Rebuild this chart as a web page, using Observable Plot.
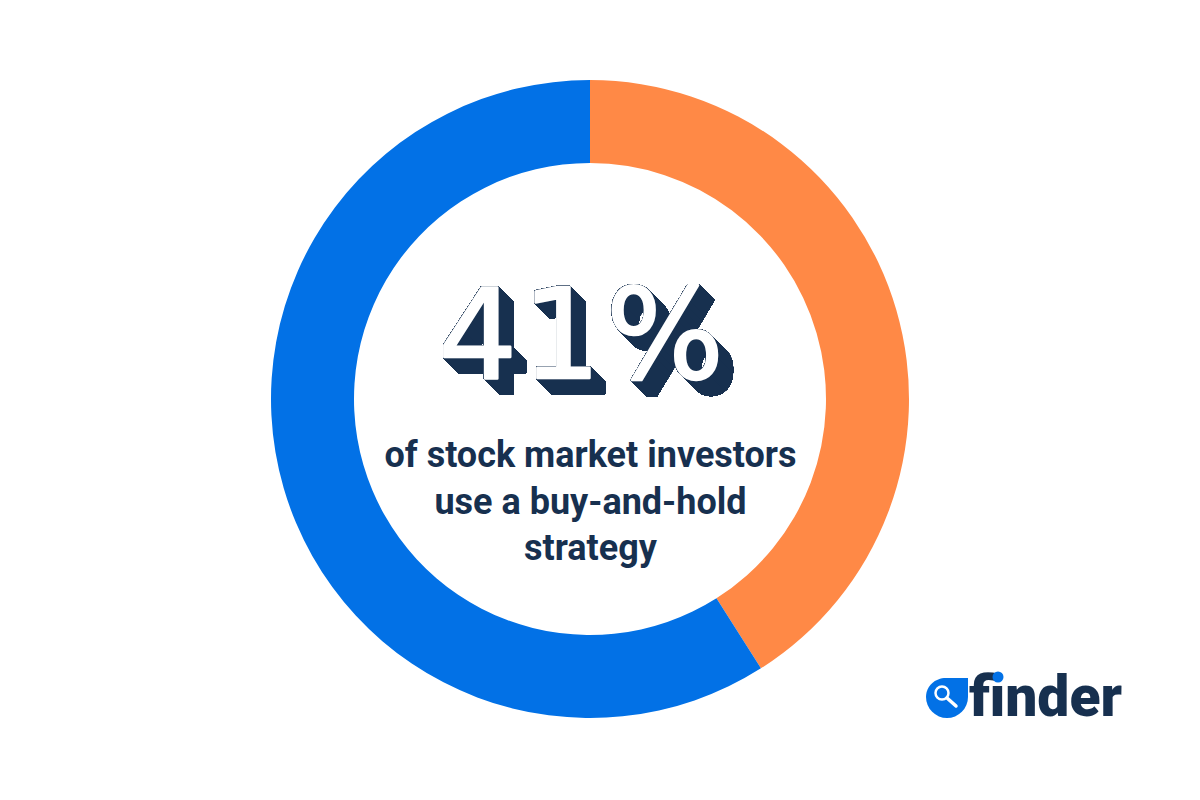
<!DOCTYPE html>
<html>
<head>
<meta charset="utf-8">
<script src="https://cdn.jsdelivr.net/npm/d3@7"></script>
<script src="https://cdn.jsdelivr.net/npm/@observablehq/plot@0.6"></script>
<style>
  html, body { margin: 0; padding: 0; background: #fff; }
  svg { display: block; }
</style>
</head>
<body>
<div id="chart"></div>
<script>
const categories = ["Buy-and-hold", "Other"];
const shares = [41, 59];
const sliceColors = ["#ff8946", "#0271e6"];
const headline = "41%";
const captionLines = ["of stock market investors", "use a buy-and-hold", "strategy"];
const brand = "finder";
const navy = "#17304f";
const blue = "#0271e6";

const rows = categories.map((category, i) => ({category, share: shares[i]}));
const outline = [0.5, 0.5, 0.5, 0.5, 0.5, 0.5].map(b => `drop-shadow(0 0 ${b}px ${navy})`).join(" ");
const extrusion = d3.range(15).map(() => `drop-shadow(1px 1px 0 ${navy})`).join(" ");

const OUTER = 319, INNER = 236;

function donut(index, scales, values, dimensions) {
  const cx = (dimensions.marginLeft + dimensions.width - dimensions.marginRight) / 2;
  const cy = (dimensions.marginTop + dimensions.height - dimensions.marginBottom) / 2;
  const pie = d3.pie().sort(null).value(d => d.share)(rows);
  const arc = d3.arc().innerRadius(INNER).outerRadius(OUTER);
  const g = d3.create("svg:g").attr("transform", `translate(${cx},${cy})`);
  g.selectAll("path").data(pie).join("path")
    .attr("d", arc)
    .attr("fill", (d, i) => values.fill[i]);
  return g.node();
}

function logoMark(index, scales, values, dimensions) {
  const g = d3.create("svg:g");
  g.append("path")
    .attr("fill", blue)
    .attr("d", "M946 678 H968 V697 A20 20 0 1 1 926 697 C926 686 935 678 946 678 Z");
  g.append("circle").attr("cx", 942).attr("cy", 693).attr("r", 6.5)
    .attr("fill", "none").attr("stroke", "#fff").attr("stroke-width", 2.5);
  g.append("line").attr("x1", 947).attr("y1", 698).attr("x2", 956).attr("y2", 706)
    .attr("stroke", "#fff").attr("stroke-width", 3.5).attr("stroke-linecap", "round");
  g.append("circle").attr("cx", 998).attr("cy", 677).attr("r", 5.5).attr("fill", blue);
  return g.node();
}

function spaced(index, scales, values, dimensions, context, next) {
  const g = next(index, scales, values, dimensions, context);
  g.style.letterSpacing = "5px";
  return g;
}

const plot = Plot.plot({
  width: 1200,
  height: 800,
  marginTop: 0,
  marginLeft: 0,
  marginRight: 20,
  marginBottom: 2,
  style: {background: "#fff"},
  color: {domain: categories, range: sliceColors},
  marks: [
    Plot.dot(rows, {frameAnchor: "middle", fill: "category", render: donut}),
    Plot.text([headline], {
      frameAnchor: "middle",
      dx: -7,
      dy: -61,
      fontFamily: "DejaVu Sans",
      fontWeight: 400,
      fontSize: 124,
      fill: "#fff",
      stroke: "#fff",
      strokeWidth: 2.5,
      imageFilter: `${outline} ${extrusion}`,
      render: spaced
    }),
    ...captionLines.map((line, i) => Plot.text([line], {
      frameAnchor: "middle",
      dy: 56 + i * 46.5,
      fontFamily: "Roboto",
      fontWeight: 700,
      fontSize: 36,
      fill: navy
    })),
    Plot.text([brand], {
      frameAnchor: "middle",
      dx: 455,
      dy: 298,
      fontFamily: "Roboto",
      fontWeight: 900,
      fontSize: 57,
      fill: navy
    }),
    Plot.dot([brand], {frameAnchor: "middle", render: logoMark})
  ]
});
document.getElementById("chart").append(plot);
</script>
</body>
</html>
